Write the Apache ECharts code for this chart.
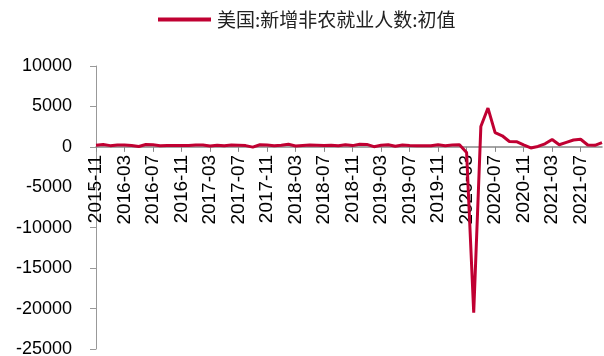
<!DOCTYPE html>
<html>
<head>
<meta charset="utf-8">
<script src="https://cdn.jsdelivr.net/npm/echarts@6/dist/echarts.min.js"></script>
<style>
  html, body { margin: 0; padding: 0; background: #fff; }
  #chart { width: 604px; height: 356px; }
</style>
</head>
<body>
<div id="chart"></div>
<script>
// Monthly months, 2015-11 .. 2021-10
const months = [
  '2015-11','2015-12',
  '2016-01','2016-02','2016-03','2016-04','2016-05','2016-06','2016-07','2016-08','2016-09','2016-10','2016-11','2016-12',
  '2017-01','2017-02','2017-03','2017-04','2017-05','2017-06','2017-07','2017-08','2017-09','2017-10','2017-11','2017-12',
  '2018-01','2018-02','2018-03','2018-04','2018-05','2018-06','2018-07','2018-08','2018-09','2018-10','2018-11','2018-12',
  '2019-01','2019-02','2019-03','2019-04','2019-05','2019-06','2019-07','2019-08','2019-09','2019-10','2019-11','2019-12',
  '2020-01','2020-02','2020-03','2020-04','2020-05','2020-06','2020-07','2020-08','2020-09','2020-10','2020-11','2020-12',
  '2021-01','2021-02','2021-03','2021-04','2021-05','2021-06','2021-07','2021-08','2021-09','2021-10'
];

// 美国:新增非农就业人数:初值 (千人)
const payrolls = [
  211, 292,
  151, 242, 215, 160, 38, 287, 255, 151, 156, 161, 178, 156,
  227, 235, 98, 211, 138, 222, 209, 156, -33, 261, 228, 148,
  200, 313, 103, 164, 223, 213, 157, 201, 134, 250, 155, 312,
  304, 20, 196, 263, 75, 224, 164, 130, 136, 128, 266, 145,
  225, 273, -701, -20500, 2509, 4800, 1763, 1371, 661, 638, 245, -140,
  49, 379, 916, 266, 559, 850, 943, 235, 194, 531
];

const seriesName = '美国:新增非农就业人数:初值';
const yMin = -25000, yMax = 10000, yStep = 5000;

const W = 604, H = 356;
const gridTop = 66, gridBottom = 7;
// The category axis sits on the zero line: lift it from the grid's bottom edge
// by the share of the plot height that lies below zero.
const plotHeight = H - gridTop - gridBottom;
const zeroLift = plotHeight * (0 - yMin) / (yMax - yMin);

const chart = echarts.init(document.getElementById('chart'), null, { renderer: 'canvas' });
chart.setOption({
  animation: false,
  backgroundColor: '#ffffff',
  textStyle: { fontFamily: 'Liberation Sans, Arial, sans-serif' },
  legend: {
    data: [seriesName],
    top: 10,
    left: 158,
    padding: 0,
    itemWidth: 53,
    itemHeight: 4,
    itemGap: 6,
    icon: 'rect',
    textStyle: {
      fontFamily: '"Noto Sans CJK SC", sans-serif',
      fontSize: 19,
      color: '#222',
      padding: [0, 0, 0, 1]
    }
  },
  grid: {
    left: 96, right: 2, top: gridTop, bottom: gridBottom,
    containLabel: false,
    outerBoundsMode: 'none'
  },
  xAxis: {
    type: 'category',
    data: months,
    boundaryGap: false,
    position: 'bottom',
    offset: -zeroLift,
    axisLine: { onZero: false, lineStyle: { color: '#888', width: 1.5 } },
    axisTick: { show: true, interval: 3, length: 5, lineStyle: { color: '#888' } },
    axisLabel: {
      show: true,
      interval: 3,
      rotate: 90,
      margin: 8,
      hideOverlap: false,
      fontSize: 19,
      color: '#000',
      fontFamily: 'Liberation Sans, Arial, sans-serif'
    },
    splitLine: { show: false }
  },
  yAxis: {
    type: 'value',
    min: yMin,
    max: yMax,
    interval: yStep,
    axisLine: { show: true, lineStyle: { color: '#999', width: 1 } },
    axisTick: { show: true, length: 6, lineStyle: { color: '#999' } },
    axisLabel: {
      margin: 24,
      fontSize: 18,
      color: '#000',
      fontFamily: 'Liberation Sans, Arial, sans-serif',
      formatter: (v) => String(v)
    },
    splitLine: { show: false }
  },
  series: [{
    name: seriesName,
    type: 'line',
    data: payrolls,
    symbol: 'none',
    lineStyle: { color: '#C00032', width: 3 },
    itemStyle: { color: '#C00032' }
  }]
});
</script>
</body>
</html>
